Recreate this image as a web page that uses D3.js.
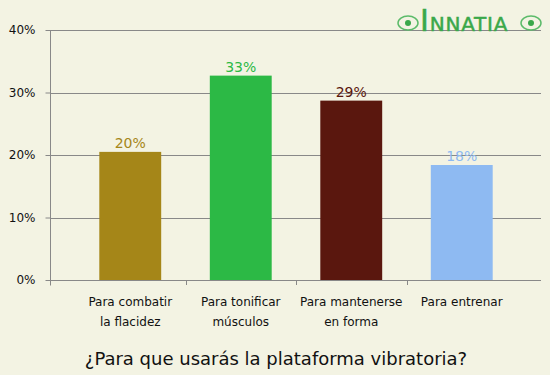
<!DOCTYPE html>
<html>
<head>
<meta charset="utf-8">
<script src="https://cdn.jsdelivr.net/npm/d3@7"></script>
<style>
  body { margin: 0; background: #f3f3e3; }
  svg { display: block; font-family: 'DejaVu Sans', sans-serif; }
</style>
</head>
<body>
<div id="chart"></div>
<script>
// Chart data
const categories = ['Para combatir|la flacidez', 'Para tonificar|músculos', 'Para mantenerse|en forma', 'Para entrenar'];
const values = [20.5, 32.7, 28.7, 18.4];
const valueLabels = ['20%', '33%', '29%', '18%'];
const barColors = ['#a58618', '#2cb945', '#5a170e', '#8ebaf2'];
const yTicks = [0, 10, 20, 30, 40];
const title = '¿Para que usarás la plataforma vibratoria?';

function drawChart() {
    const width = 550, height = 375;
    const plot = { left: 50, right: 541, top: 30, bottom: 280 };

    const svg = d3.select('#chart')
        .append('svg')
        .attr('width', width)
        .attr('height', height);

    svg.append('rect')
        .attr('width', width)
        .attr('height', height)
        .attr('fill', '#f3f3e3');

    const y = d3.scaleLinear()
        .domain([0, 40])
        .range([plot.bottom, plot.top]);

    const x = d3.scaleBand()
        .domain(categories)
        .range([75, 517])
        .paddingInner(0.44)
        .paddingOuter(0.22);

    // Gridlines
    svg.selectAll('.grid')
        .data(yTicks)
        .enter()
        .append('line')
        .attr('x1', plot.left)
        .attr('x2', plot.right)
        .attr('y1', d => Math.round(y(d)) + 0.5)
        .attr('y2', d => Math.round(y(d)) + 0.5)
        .attr('stroke', '#888')
        .attr('stroke-width', 1);

    // Left axis
    const yAxis = svg.append('g')
        .attr('transform', `translate(${plot.left + 0.5},0.5)`)
        .call(d3.axisLeft(y).tickValues(yTicks).tickSize(5).tickPadding(10).tickFormat(d => d + '%'));
    yAxis.select('.domain').attr('stroke', '#888').attr('d', `M0,${Math.round(y(40))}V${Math.round(y(0)) + 5}`);
    yAxis.selectAll('.tick line').attr('stroke', '#888').attr('transform', 'translate(0,-0.5)');
    yAxis.selectAll('text')
        .attr('transform', 'translate(0,-0.5)')
        .style('font-family', "'DejaVu Sans', sans-serif")
        .style('font-size', '12px')
        .style('fill', '#111');

    // Bottom ticks at band boundaries
    const step = x.step();
    const boundaries = [plot.left].concat(categories.slice(1).map(c => x(c) - x.paddingInner() * step / 2));
    svg.selectAll('.xtick')
        .data(boundaries)
        .enter()
        .append('line')
        .attr('x1', d => Math.round(d) + 0.5)
        .attr('x2', d => Math.round(d) + 0.5)
        .attr('y1', y(0))
        .attr('y2', y(0) + 5)
        .attr('stroke', '#888');

    // Bars
    svg.selectAll('.bar')
        .data(values)
        .enter()
        .append('rect')
        .attr('x', (d, i) => x(categories[i]))
        .attr('y', d => y(d))
        .attr('width', x.bandwidth())
        .attr('height', d => y(0) - y(d))
        .attr('fill', (d, i) => barColors[i]);

    // Value labels
    svg.selectAll('.val')
        .data(values)
        .enter()
        .append('text')
        .attr('x', (d, i) => x(categories[i]) + x.bandwidth() / 2)
        .attr('y', d => y(d) - 4)
        .attr('text-anchor', 'middle')
        .style('font-size', '14px')
        .style('fill', (d, i) => barColors[i])
        .text((d, i) => valueLabels[i]);

    // Category labels
    categories.forEach(c => {
        const t = svg.append('text')
            .attr('text-anchor', 'middle')
            .style('font-size', '12px')
            .style('fill', '#111');
        c.split('|').forEach((line, j) => {
            t.append('tspan')
                .attr('x', x(c) + x.bandwidth() / 2)
                .attr('y', 306 + j * 20)
                .text(line);
        });
    });

    // Title
    svg.append('text')
        .attr('x', 276)
        .attr('y', 365)
        .attr('text-anchor', 'middle')
        .style('font-size', '18px')
        .style('fill', '#111')
        .text(title);

    // Logo
    const logo = svg.append('g').attr('fill', '#3aa84a');
    logo.append('text')
        .attr('x', 420)
        .attr('y', 31)
        .attr('stroke', '#3aa84a')
        .attr('stroke-width', 0.5)
        .style('font-family', "'DejaVu Sans', sans-serif")
        .style('font-size', '20px')
        .style('letter-spacing', '0.8px')
        .html('<tspan style="font-size:30px">I</tspan>NNATIA');
    [408, 531].forEach(cx => {
        logo.append('ellipse')
            .attr('cx', cx).attr('cy', 23).attr('rx', 10).attr('ry', 7)
            .attr('fill', 'none').attr('stroke', '#5cbb6a').attr('stroke-width', 1.5);
        logo.append('circle').attr('cx', cx).attr('cy', 23).attr('r', 3);
    });
}

drawChart();
</script>
</body>
</html>
